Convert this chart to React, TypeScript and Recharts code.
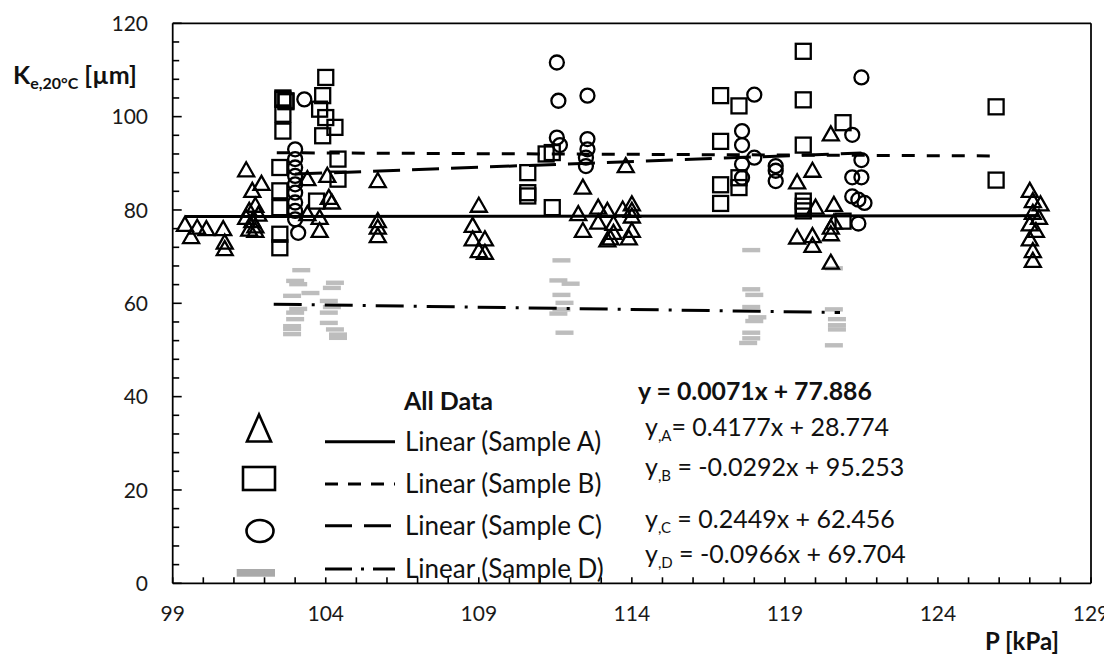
import { ReferenceLine, Scatter, ScatterChart, XAxis, YAxis } from 'recharts';

// chart frame
const W = 1104;
const H = 647;
const MARGIN = { top: 15.3, right: 21, bottom: 31.7, left: 104.7 };
const FONT = 'Lato, "Open Sans", sans-serif';

// axis ticks (every 1 kPa / every 4 µm, labels on the majors)
const xTicks = Array.from({ length: 31 }, (_, i) => 99 + i);
const yTicks = Array.from({ length: 31 }, (_, i) => i * 4);

// P [kPa], Ke [µm]
const sampleA: [number, number][] = [
  [99.4, 76.8], [99.6, 74.2], [99.8, 76.2], [100.1, 75.9], [100.65, 75.9], [100.7, 73.0], [100.7, 71.6],
  [101.4, 88.5], [101.6, 84.1], [101.9, 85.6], [101.5, 79.8], [101.7, 80.9], [101.4, 78.3], [101.6, 77.6],
  [101.7, 76.5], [101.5, 75.8], [101.7, 75.5], [101.8, 79.0],
  [103.4, 86.6], [103.4, 79.1], [103.8, 78.3], [103.8, 75.5], [104.05, 87.3], [104.1, 82.6], [104.2, 81.6],
  [105.7, 86.2], [105.7, 77.6], [105.7, 76.2], [105.7, 74.4],
  [109.0, 80.9], [108.8, 76.6], [108.8, 73.7], [109.2, 73.7], [109.0, 71.2], [109.2, 70.8],
  [112.4, 84.8], [112.25, 79.1], [112.4, 75.5], [112.9, 80.5], [112.9, 77.3], [113.2, 79.8], [113.4, 77.0],
  [113.4, 75.1], [113.3, 73.9], [113.2, 73.5], [113.8, 89.4], [113.7, 80.1], [114.0, 81.2], [114.0, 79.8],
  [114.0, 78.6], [114.0, 75.5], [113.9, 73.9],
  [120.5, 96.2], [119.9, 88.4], [119.4, 85.9], [120.0, 80.5], [120.6, 81.1], [119.4, 74.1], [119.9, 74.4],
  [119.9, 72.3], [120.5, 76.2], [120.5, 74.8], [120.6, 77.3], [120.5, 68.7],
  [127.0, 84.1], [127.1, 81.9], [127.35, 81.2], [127.1, 79.4], [127.3, 78.3], [127.0, 76.9], [127.2, 75.5],
  [127.0, 73.7], [127.1, 71.2], [127.1, 69.1],
];

const sampleB: [number, number][] = [
  [102.6, 103.7], [102.7, 103.4], [102.6, 104.0], [102.7, 103.2], [102.6, 100.5], [102.6, 96.9],
  [103.9, 104.5], [104.0, 108.4], [103.8, 101.6], [104.0, 99.8], [104.3, 97.7], [103.9, 95.9],
  [104.4, 90.9], [104.4, 86.6], [102.5, 89.1], [102.5, 84.1], [102.5, 80.5], [102.5, 74.8], [102.5, 71.9],
  [103.7, 81.9],
  [110.6, 88.0], [110.6, 83.7], [110.6, 83.0], [111.4, 92.3], [111.2, 92.0], [111.4, 80.5],
  [116.9, 104.5], [117.5, 102.3], [116.9, 94.7], [116.9, 85.4], [116.9, 81.4], [117.5, 86.9], [117.5, 84.8],
  [119.6, 114.0], [119.6, 103.6], [119.6, 93.9], [119.6, 81.9], [119.6, 80.8], [119.6, 79.8],
  [120.9, 98.7], [120.9, 77.6],
  [125.9, 102.1], [125.9, 86.4],
];

const sampleC: [number, number][] = [
  [103.3, 103.7], [103.0, 93.0], [103.0, 90.9], [103.0, 89.1], [103.0, 87.3], [103.0, 85.5], [103.0, 83.7],
  [103.0, 81.6], [103.0, 79.8], [103.0, 78.0], [103.1, 75.1],
  [111.55, 111.6], [111.6, 103.4], [112.55, 104.5], [111.55, 95.5], [111.65, 93.9], [112.55, 95.2],
  [112.55, 93.0], [112.5, 91.2], [112.5, 89.4],
  [118.0, 104.7], [117.6, 96.9], [117.6, 93.9], [117.6, 89.8], [117.6, 86.9], [118.0, 91.2],
  [118.7, 89.4], [118.7, 88.4], [118.7, 86.2],
  [121.5, 108.4], [121.2, 96.1], [121.5, 90.7], [121.2, 87.0], [121.5, 87.0], [121.2, 82.9],
  [121.4, 82.2], [121.6, 81.5], [121.4, 77.1],
];

const sampleD: [number, number][] = [
  [103.2, 67.1], [103.0, 64.8], [103.1, 64.1], [102.9, 61.6], [103.5, 62.2], [103.1, 58.8], [103.0, 58.0],
  [103.0, 56.6], [102.9, 55.1], [102.9, 54.5], [102.9, 53.4],
  [104.3, 64.4], [104.2, 63.3], [104.1, 60.5], [104.2, 59.2], [104.1, 58.0], [104.1, 55.8], [104.3, 54.4],
  [104.4, 53.3], [104.4, 52.6],
  [111.7, 69.2], [111.6, 64.9], [112.0, 64.2], [111.7, 61.8], [111.8, 60.1], [111.7, 58.7], [111.6, 57.8],
  [111.8, 53.7],
  [117.9, 71.4], [117.9, 63.0], [118.0, 61.8], [117.9, 59.2], [118.1, 57.0], [118.0, 56.2], [117.9, 53.7],
  [117.9, 52.5], [117.8, 51.5],
  [120.6, 67.5], [120.6, 58.7], [120.7, 56.6], [120.7, 55.3], [120.7, 54.4], [120.6, 51.0],
];

// linear fits: slope, intercept, x range
const fitAll = { m: 0.0071, b: 77.886, from: 99.4, to: 127.3 };
const fitB = { m: -0.0292, b: 95.253, from: 102.4, to: 125.8 };
const fitC = { m: 0.2449, b: 62.456, from: 103.0, to: 121.5 };
const fitD = { m: -0.0966, b: 69.704, from: 102.3, to: 120.8 };

const toPoints = (arr: [number, number][]) => arr.map(([x, y]) => ({ x, y }));
const fitLine = (f: { m: number; b: number; from: number; to: number }) =>
  [f.from, f.to].map((x) => ({ x, y: f.m * x + f.b }));

const Triangle = ({ cx, cy }: any) => (
  <polygon
    points={`${cx},${cy - 8} ${cx - 8},${cy + 6} ${cx + 8},${cy + 6}`}
    fill="none"
    stroke="#000"
    strokeWidth={2.3}
  />
);
const Square = ({ cx, cy }: any) => (
  <rect x={cx - 7.5} y={cy - 7.5} width={15} height={15} fill="none" stroke="#000" strokeWidth={2.3} />
);
const Ring = ({ cx, cy }: any) => <circle cx={cx} cy={cy} r={7} fill="none" stroke="#000" strokeWidth={2.3} />;
const GrayDash = ({ cx, cy }: any) => <rect x={cx - 9} y={cy - 2.2} width={18} height={4.4} fill="#bdbdbd" />;
const Nothing = () => <g />;

const YTick = ({ x, y, payload }: any) => {
  const major = payload.value % 20 === 0;
  const ax = x + 24.7;
  return (
    <g>
      <line x1={ax} x2={ax + (major ? 9 : 6.5)} y1={y} y2={y} stroke="#000" strokeWidth={1.6} />
      {major && (
        <text x={x} y={y} dy="0.36em" textAnchor="end" fontSize={21} fontFamily={FONT} fill="#1a1a1a">
          {payload.value}
        </text>
      )}
    </g>
  );
};

const XTick = ({ x, y, payload }: any) => {
  const major = (payload.value - 99) % 5 === 0;
  const ay = y - 22.5;
  return (
    <g>
      <line x1={x} x2={x} y1={ay} y2={ay - 6} stroke="#000" strokeWidth={1.6} />
      {major && (
        <text x={x} y={y} dy="0.71em" textAnchor="middle" fontSize={21} fontFamily={FONT} fill="#1a1a1a">
          {payload.value}
        </text>
      )}
    </g>
  );
};

const legendRows = [
  { label: 'Linear (Sample A)', y: 433.7, dash: undefined },
  { label: 'Linear (Sample B)', y: 476, dash: '13 10' },
  { label: 'Linear (Sample C)', y: 517.7, dash: '27 12' },
  { label: 'Linear (Sample D)', y: 561, dash: '27 9 3 9' },
];

const equations = [
  { sub: ',A', rest: '= 0.4177x + 28.774', y: 428 },
  { sub: ',B', rest: ' = -0.0292x + 95.253', y: 468 },
  { sub: ',C', rest: ' = 0.2449x + 62.456', y: 520 },
  { sub: ',D', rest: ' = -0.0966x + 69.704', y: 555 },
];

function Overlay() {
  const txt = { fontFamily: FONT, fill: '#111' };
  return (
    <svg width={W} height={H} style={{ position: 'absolute', left: 0, top: 0, pointerEvents: 'none' }}>
      {/* axis titles */}
      <text x={5} y={76} fontSize={25} fontWeight={700} {...txt}>
        K<tspan fontSize={16} dy={5}>e,20°C</tspan>
        <tspan dy={-5}> [µm]</tspan>
      </text>
      <text x={1014} y={642} fontSize={24} fontWeight={700} textAnchor="middle" {...txt}>
        P [kPa]
      </text>

      {/* legend */}
      <text x={396} y={402} fontSize={25} fontWeight={700} {...txt}>
        All Data
      </text>
      <polygon points="251,406.5 239,433.5 263,433.5" fill="none" stroke="#000" strokeWidth={2.6} />
      <rect x={235} y={459} width={32} height={23} fill="none" stroke="#000" strokeWidth={2.6} />
      <ellipse cx={252} cy={523} rx={13.5} ry={11} fill="none" stroke="#000" strokeWidth={2.6} />
      <rect x={228.7} y={561} width={38.3} height={7.7} fill="#a9a9a9" />
      {legendRows.map((r) => (
        <g key={r.label}>
          <line x1={317} x2={387} y1={r.y} y2={r.y} stroke="#000" strokeWidth={3} strokeDasharray={r.dash} />
          <text x={397} y={r.y + 9} fontSize={26} {...txt}>
            {r.label}
          </text>
        </g>
      ))}

      {/* fit equations */}
      <text x={630} y={392} fontSize={24.8} fontWeight={700} {...txt}>
        y = 0.0071x + 77.886
      </text>
      {equations.map((e) => (
        <text key={e.sub} x={637} y={e.y} fontSize={25} {...txt}>
          y
          <tspan fontSize={15} dy={5}>
            {e.sub}
          </tspan>
          <tspan dy={-5}>{e.rest}</tspan>
        </text>
      ))}
    </svg>
  );
}

export default function App() {
  return (
    <div style={{ position: 'relative', width: W, height: H, fontFamily: FONT }}>
      <ScatterChart width={W} height={H} margin={MARGIN}>
        <XAxis
          type="number"
          dataKey="x"
          domain={[99, 129]}
          ticks={xTicks}
          interval={0}
          allowDataOverflow
          height={40}
          tickSize={0}
          tickMargin={22.5}
          tickLine={false}
          tick={<XTick />}
          axisLine={{ stroke: '#000', strokeWidth: 1.75 }}
        />
        <YAxis
          type="number"
          dataKey="y"
          domain={[0, 120]}
          ticks={yTicks}
          interval={0}
          allowDataOverflow
          width={60}
          tickSize={0}
          tickMargin={24.7}
          tickLine={false}
          tick={<YTick />}
          axisLine={{ stroke: '#000', strokeWidth: 1.75 }}
        />
        <ReferenceLine y={120} stroke="#000" strokeWidth={1.75} ifOverflow="extendDomain" />
        <ReferenceLine x={129} stroke="#000" strokeWidth={1.75} ifOverflow="extendDomain" />

        <Scatter name="Sample D" data={toPoints(sampleD)} shape={GrayDash} isAnimationActive={false} />
        <Scatter name="Sample A" data={toPoints(sampleA)} shape={Triangle} isAnimationActive={false} />
        <Scatter name="Sample B" data={toPoints(sampleB)} shape={Square} isAnimationActive={false} />
        <Scatter name="Sample C" data={toPoints(sampleC)} shape={Ring} isAnimationActive={false} />

        <Scatter
          data={fitLine(fitAll)}
          shape={Nothing}
          line={{ stroke: '#000', strokeWidth: 3 }}
          isAnimationActive={false}
        />
        <Scatter
          data={fitLine(fitB)}
          shape={Nothing}
          line={{ stroke: '#000', strokeWidth: 3, strokeDasharray: '13 12' }}
          isAnimationActive={false}
        />
        <Scatter
          data={fitLine(fitC)}
          shape={Nothing}
          line={{ stroke: '#000', strokeWidth: 3, strokeDasharray: '27 12' }}
          isAnimationActive={false}
        />
        <Scatter
          data={fitLine(fitD)}
          shape={Nothing}
          line={{ stroke: '#000', strokeWidth: 3, strokeDasharray: '28 10 3 10' }}
          isAnimationActive={false}
        />
      </ScatterChart>
      <Overlay />
    </div>
  );
}
